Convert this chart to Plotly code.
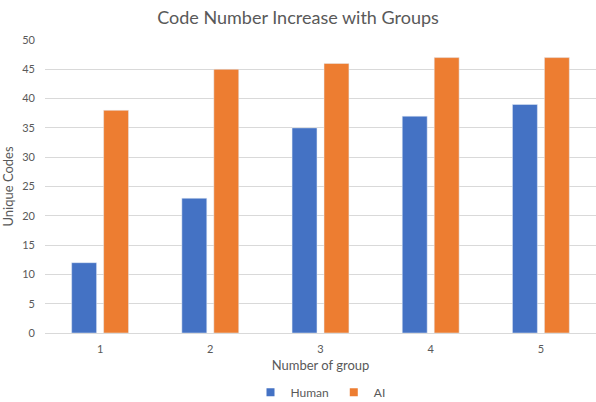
import plotly.graph_objects as go

groups = ["1", "2", "3", "4", "5"]
human = [12, 23, 35, 37, 39]
ai = [38, 45, 46, 47, 47]

series_names = ["Human", "AI"]
series_colors = ["#4472C4", "#ED7D31"]

font_family = "Lato, 'Open Sans', sans-serif"
text_gray = "#595959"

fig = go.Figure()
for name, values, color in zip(series_names, [human, ai], series_colors):
    fig.add_trace(go.Bar(name=name, x=groups, y=values, marker_color=color,
                         showlegend=False, legendgroup=name))

# Compact square legend keys
for name, color in zip(series_names, series_colors):
    fig.add_trace(go.Scatter(
        name=name, x=[None], y=[None], mode="markers",
        marker=dict(symbol="square", size=8, color=color),
        legendgroup=name, showlegend=True,
    ))

fig.update_layout(
    width=596,
    height=402,
    barmode="group",
    bargap=0.42,
    bargroupgap=0.22,
    plot_bgcolor="white",
    paper_bgcolor="white",
    font=dict(family=font_family, color=text_gray, size=11),
    title=dict(
        text="Code Number Increase with Groups",
        x=0.5,
        xanchor="center",
        y=0.957,
        yanchor="middle",
        font=dict(size=18, color=text_gray, family=font_family),
    ),
    margin=dict(l=45, r=0, t=40, b=69, autoexpand=False),
    legend=dict(
        orientation="h",
        x=0.5,
        xanchor="center",
        yref="container",
        y=0.024,
        yanchor="middle",
        font=dict(size=12, color=text_gray),
        itemwidth=30,
        tracegroupgap=0,
    ),
    showlegend=True,
)

fig.update_yaxes(
    range=[0, 50],
    dtick=5,
    showgrid=True,
    gridcolor="#d9d9d9",
    gridwidth=1,
    zeroline=True,
    zerolinecolor="#d9d9d9",
    zerolinewidth=1,
    ticks="",
    ticklabelstandoff=9,
    automargin=False,
    title=dict(text="Unique Codes", font=dict(size=13, color=text_gray), standoff=6),
    tickfont=dict(size=11, color=text_gray),
)
fig.update_xaxes(
    showgrid=False,
    ticks="",
    showline=False,
    ticklabelstandoff=8,
    automargin=False,
    title=dict(text="Number of group", font=dict(size=13, color=text_gray), standoff=6),
    tickfont=dict(size=11, color=text_gray),
)

fig.write_html("out.html")
